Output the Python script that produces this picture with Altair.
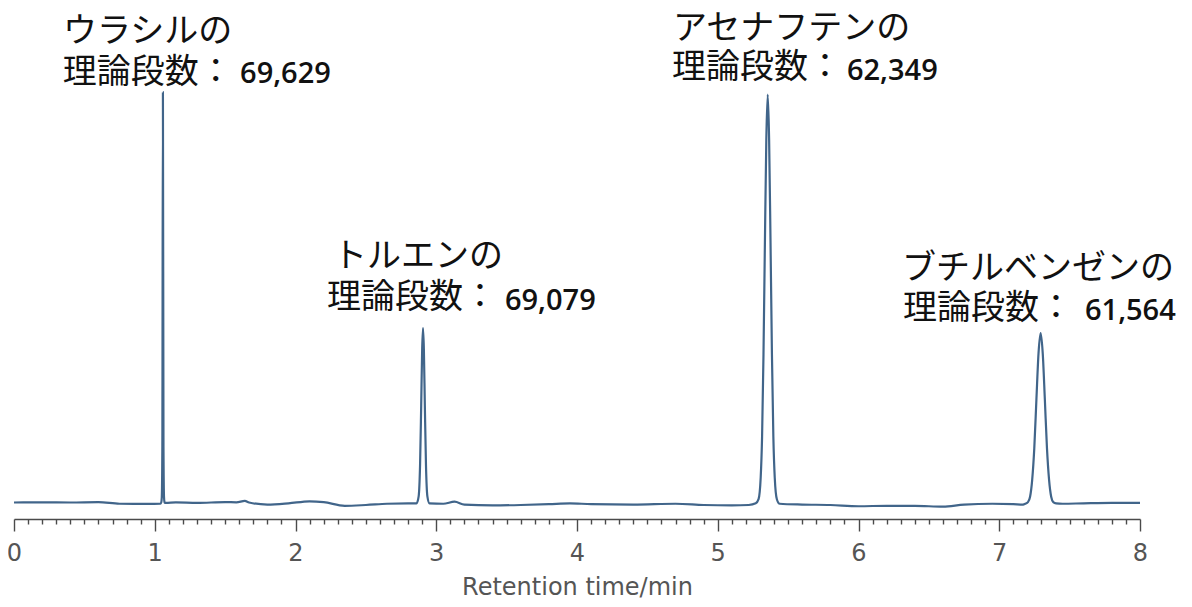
import altair as alt
import pandas as pd

# ---- chromatogram trace ----
time_min = [
    0.00, 0.20, 0.40, 0.60, 0.75, 0.95, 1.040,
    1.046, 1.050, 1.054, 1.058, 1.062, 1.066, 1.070, 1.078,
    1.15, 1.30, 1.50, 1.58, 1.64, 1.67, 1.80, 1.95, 2.10, 2.20, 2.35, 2.50, 2.65, 2.80,
    2.860, 2.875, 2.885, 2.893, 2.900, 2.906, 2.912, 2.919, 2.927, 2.937, 2.952,
    3.05, 3.13, 3.20, 3.40, 3.60, 3.80, 3.95, 4.10, 4.40, 4.70, 4.90, 5.10, 5.22,
    5.270, 5.290, 5.305, 5.315, 5.325, 5.335, 5.345, 5.355, 5.365, 5.375, 5.385,
    5.395, 5.405, 5.420, 5.440,
    5.60, 5.80, 6.00, 6.20, 6.40, 6.60, 6.75, 6.95, 7.10, 7.17,
    7.184, 7.204, 7.219, 7.234, 7.249, 7.264, 7.279, 7.294, 7.309, 7.324, 7.339,
    7.354, 7.369, 7.384, 7.404,
    7.45, 7.60, 7.80, 8.00,
]
signal = [
    0.0, 0.05, 0.0, 0.1, -0.3, -0.35, -0.3,
    0.0, 1.2, 13.5, 99.5, 13.5, 1.2, 0.0, -0.1,
    0.05, -0.1, 0.1, 0.05, 0.4, 0.0, -0.5, -0.2, 0.3, 0.1, -0.8, -0.6, -0.3, -0.2,
    -0.2, 1.5, 9.1, 23.5, 37.3, 42.3, 37.3, 23.5, 9.1, 1.5, -0.2,
    -0.3, 0.2, -0.5, -0.7, -0.6, -0.4, -0.2, -0.4, -0.5, -0.3, -0.6, -0.7, -0.6,
    -0.2, 0.8, 6.0, 16.0, 36.0, 63.0, 88.0, 99.0, 88.0, 63.0, 36.0,
    16.0, 6.0, 0.8, -0.3,
    -0.5, -0.6, -0.9, -0.8, -0.8, -1.0, -0.5, -0.3, -0.4, -0.5,
    -0.3, 0.1, 1.4, 5.5, 13.2, 25.0, 36.2, 41.1, 36.2, 25.0, 13.2,
    5.5, 1.4, 0.1, -0.2,
    -0.3, -0.2, -0.1, -0.1,
]

# ---- annotations ----
compound_names = ["ウラシルの", "トルエンの", "アセナフテンの", "ブチルベンゼンの"]
name_t = [0.348, 2.266, 4.682, 6.309]
name_s = [114.9, 60.3, 115.6, 57.5]
plate_prefix = "理論段数："
prefix_t = [0.346, 2.224, 4.675, 6.316]
prefix_s = [104.95, 50.4, 106.2, 47.8]
plate_numbers = ["69,629", "69,079", "62,349", "61,564"]
num_t = [1.606, 3.488, 5.918, 7.609]
num_s = [101.8, 46.6, 102.5, 44.3]

# axis ticks every 0.1 min, labelled every 1 min
tick_values = [round(i / 10, 1) for i in range(0, 81)]

trace = pd.DataFrame({"t": time_min, "s": signal})
names = pd.DataFrame({"t": name_t, "s": name_s, "label": compound_names})
prefixes = pd.DataFrame({"t": prefix_t, "s": prefix_s, "label": [plate_prefix] * 4})
numbers = pd.DataFrame({"t": num_t, "s": num_s, "label": plate_numbers})

xscale = alt.Scale(domain=[0, 8], nice=False, zero=False)
yscale = alt.Scale(domain=[-4, 118.54], nice=False, zero=False)

axis_color = "#4a4a4a"
is_major = "datum.value % 1 === 0"

line = alt.Chart(trace).mark_line(
    color="#41658a", strokeWidth=2.2, interpolate="monotone"
).encode(
    x=alt.X("t:Q", scale=xscale, title="Retention time/min",
            axis=alt.Axis(values=tick_values, tickCount=200,
                          tickSize={"condition": {"test": is_major, "value": 12}, "value": 5},
                          tickWidth=1.4,
                          domainWidth=1.5, domainColor=axis_color, tickColor=axis_color,
                          labelExpr=f"{is_major} ? format(datum.value, 'd') : ''",
                          labelOverlap=False,
                          labelFontSize=24, labelColor="#555555", labelFont="DejaVu Sans",
                          labelPadding=10, labelFlush=False,
                          titleFontSize=24, titleFont="DejaVu Sans", titleFontWeight="normal",
                          titleColor="#555555", titlePadding=10, grid=False,
                          orient="bottom")),
    y=alt.Y("s:Q", scale=yscale, axis=None),
)

name_text = alt.Chart(names).mark_text(
    align="left", baseline="middle", font="Noto Sans CJK JP", fontSize=34,
    color="#111111", dy=3
).encode(x=alt.X("t:Q", scale=xscale), y=alt.Y("s:Q", scale=yscale), text="label:N")

prefix_text = alt.Chart(prefixes).mark_text(
    align="left", baseline="middle", font="Noto Sans CJK JP", fontSize=34,
    color="#111111", dy=3
).encode(x=alt.X("t:Q", scale=xscale), y=alt.Y("s:Q", scale=yscale), text="label:N")

number_text = alt.Chart(numbers).mark_text(
    align="left", baseline="alphabetic", font="Open Sans", fontSize=29, fontWeight=600,
    color="#111111"
).encode(x=alt.X("t:Q", scale=xscale), y=alt.Y("s:Q", scale=yscale), text="label:N")

chart = alt.layer(line, name_text, prefix_text, number_text).properties(
    width=1126, height=505,
    autosize=alt.AutoSizeParams(type="none"),
    padding={"left": 6, "top": 6, "right": 40, "bottom": 82},
).configure_view(stroke=None)

chart.save("out.html", embed_options={"renderer": "svg", "actions": False})
